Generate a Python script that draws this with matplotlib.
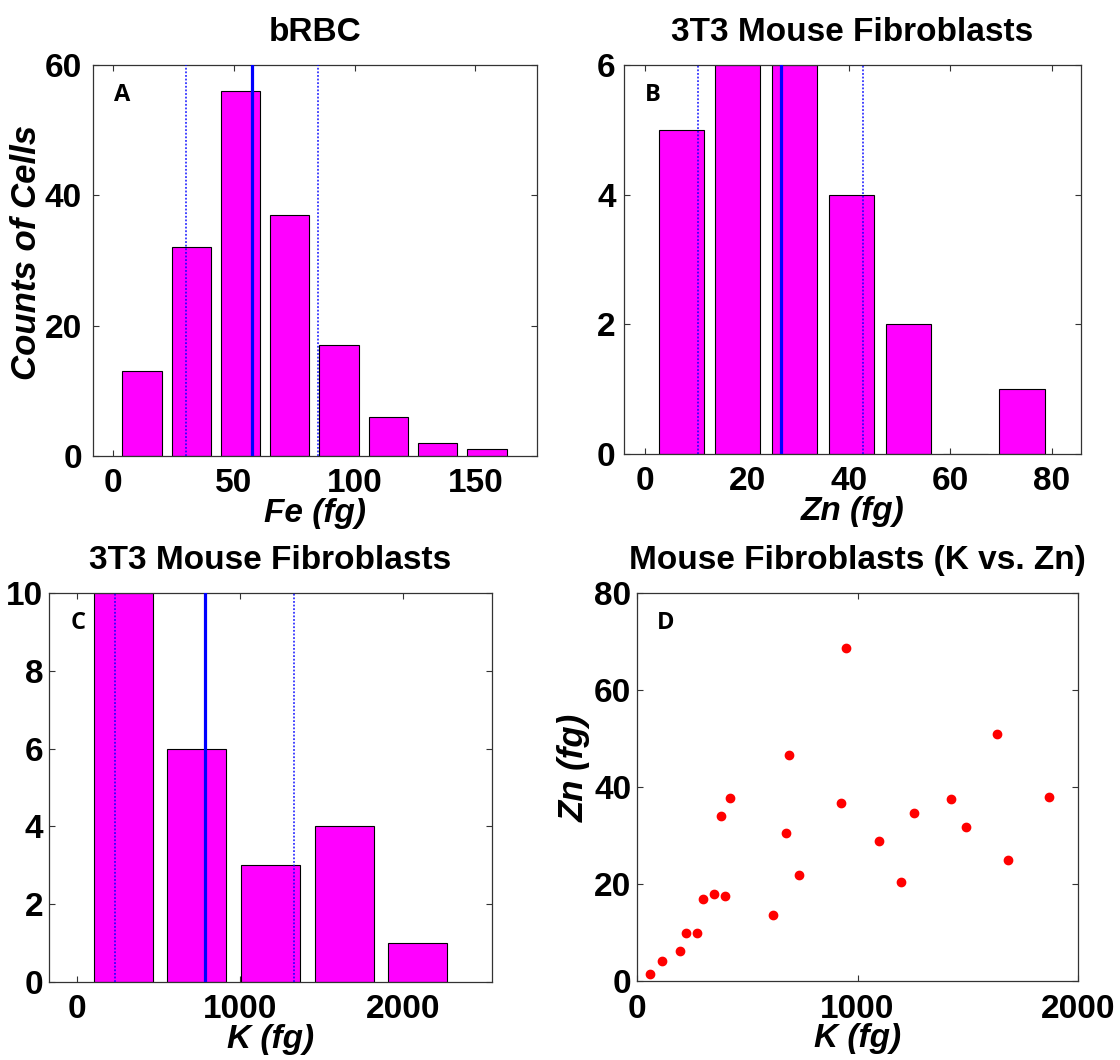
import matplotlib
matplotlib.use("Agg")
from matplotlib import pyplot as plt

# panel A - bRBC Fe histogram
fe_centers = [11.9, 32.3, 52.7, 73.1, 93.5, 114.0, 134.4, 154.8]
fe_counts = [13, 32, 56, 37, 17, 6, 2, 1]
fe_mean, fe_lo, fe_hi = 57.4, 30.2, 84.7

# panel B - 3T3 Zn histogram
zn_centers = [7.1, 18.2, 29.4, 40.6, 51.8, 62.9, 74.1]
zn_counts = [5, 6, 6, 4, 2, 0, 1]
zn_mean, zn_lo, zn_hi = 26.7, 10.4, 42.8

# panel C - 3T3 K histogram
k_centers = [283, 735, 1187, 1638, 2090]
k_counts = [10, 6, 3, 4, 1]
k_mean, k_lo, k_hi = 786, 234, 1333

# panel D - K vs Zn scatter
k_vals = [60, 112, 193, 224, 270, 298, 349, 397, 379, 420, 616, 675,
          689, 733, 924, 950, 1098, 1199, 1257, 1423, 1491, 1633, 1683, 1870]
zn_vals = [1.4, 4.1, 6.1, 9.8, 10.0, 16.9, 18.0, 17.6, 34.0, 37.8, 13.7, 30.6,
           46.7, 21.9, 36.8, 68.7, 28.8, 20.5, 34.7, 37.6, 31.8, 50.9, 25.0, 37.9]

W, H = 1120, 1060
FONT = 'Liberation Sans'
FS = 24
plt.rcParams['font.family'] = FONT
plt.rcParams['font.weight'] = 'bold'

fig = plt.figure(figsize=(W / 100, H / 100), dpi=100)


def make_ax(l, t, r, b):
    return fig.add_axes([l / W, 1 - b / H, (r - l) / W, (b - t) / H])


def style(ax, xticks, yticks, xlim, ylim, ypad=6):
    ax.set_xlim(xlim)
    ax.set_ylim(ylim)
    ax.set_xticks(xticks)
    ax.set_yticks(yticks)
    ax.tick_params(direction='in', length=4, width=0.8, top=True, right=True,
                   labelsize=FS, color='#333333')
    ax.tick_params(axis='x', pad=9)
    ax.tick_params(axis='y', pad=ypad)
    for lbl in ax.get_xticklabels() + ax.get_yticklabels():
        lbl.set_fontweight('bold')
    for s in ax.spines.values():
        s.set_color('#333333')
        s.set_linewidth(0.9)


def hist_panel(ax, centers, counts, mean, lo, hi):
    step = centers[1] - centers[0]
    ax.bar(centers, counts, width=0.8 * step, color='#ff00ff',
           edgecolor='black', linewidth=0.8, zorder=2)
    ax.axvline(mean, color='blue', linewidth=2.3, zorder=3)
    for v in (lo, hi):
        ax.axvline(v, color='blue', linestyle=(0, (1, 1)), linewidth=1.3,
                   alpha=0.8, zorder=3)


def letter(ax, s):
    pos = ax.get_position()
    fig.text(pos.x0 + 29 / W, pos.y1 - 30 / H, s, family='Open Sans',
             fontsize=17, fontweight='bold', ha='center', va='center')


def labels(ax, title, xlabel, ylabel=None, ylab_xy=(-0.11, 0.5)):
    ax.set_title(title, fontsize=FS, fontweight='bold', pad=17)
    ax.set_xlabel(xlabel, fontsize=FS, fontweight='bold', style='italic')
    ax.xaxis.set_label_coords(0.5, -0.108)
    ax.xaxis.label.set_va('top')
    if ylabel:
        ax.set_ylabel(ylabel, fontsize=25, fontweight='bold', style='italic')
        ax.yaxis.set_label_coords(*ylab_xy)


# A
axA = make_ax(93, 65, 537, 456)
hist_panel(axA, fe_centers, fe_counts, fe_mean, fe_lo, fe_hi)
style(axA, [0, 50, 100, 150], [0, 20, 40, 60], (-8.4, 175.5), (0, 60), ypad=8)
labels(axA, 'bRBC', 'Fe (fg)', 'Counts of Cells', (-0.112, 0.52))
letter(axA, 'A')

# B
axB = make_ax(624, 65, 1081, 454)
hist_panel(axB, zn_centers, zn_counts, zn_mean, zn_lo, zn_hi)
style(axB, [0, 20, 40, 60, 80], [0, 2, 4, 6], (-4.2, 85.7), (0, 6))
labels(axB, '3T3 Mouse Fibroblasts', 'Zn (fg)')
letter(axB, 'B')

# C
axC = make_ax(49, 593, 492, 982)
hist_panel(axC, k_centers, k_counts, k_mean, k_lo, k_hi)
style(axC, [0, 1000, 2000], [0, 2, 4, 6, 8, 10], (-171, 2545), (0, 10), ypad=4)
labels(axC, '3T3 Mouse Fibroblasts', 'K (fg)')
letter(axC, 'C')

# D
axD = make_ax(637, 593, 1078, 981)
axD.plot(k_vals, zn_vals, 'o', color='red', markersize=6, zorder=3)
style(axD, [0, 1000, 2000], [0, 20, 40, 60, 80], (0, 2000), (0, 80), ypad=4)
labels(axD, 'Mouse Fibroblasts (K vs. Zn)', 'K (fg)', 'Zn (fg)', (-0.105, 0.55))
letter(axD, 'D')

fig.savefig('out.png', dpi=100)
